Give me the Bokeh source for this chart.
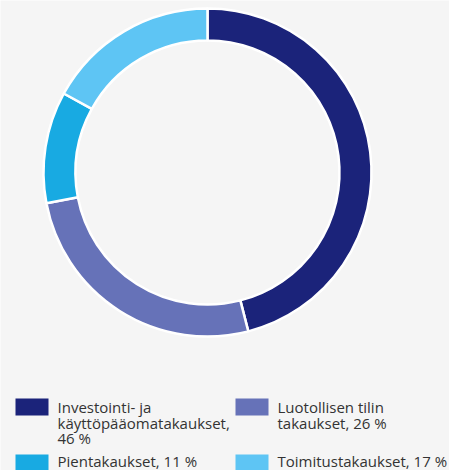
import math
from bokeh.plotting import figure
from bokeh.models import Range1d, ColumnDataSource
from bokeh.core.properties import value
from bokeh.embed import file_html
from bokeh.resources import INLINE

categories = ["Investointi- ja käyttöpääomatakaukset", "Luotollisen tilin takaukset",
              "Pientakaukset", "Toimitustakaukset"]
shares = [46, 26, 11, 17]
colors = ["#1b237a", "#6672b8", "#18aae2", "#5ec5f4"]
legend_labels = ["Investointi- ja\nkäyttöpääomatakaukset,\n46 %",
                 "Luotollisen tilin\ntakaukset, 26 %",
                 "Pientakaukset, 11 %",
                 "Toimitustakaukset, 17 %"]

W, H = 449, 470
BG = "#f5f5f5"

p = figure(width=W, height=H, output_backend="svg", toolbar_location=None,
           x_range=Range1d(0, W), y_range=Range1d(0, H), min_border=0)
p.axis.visible = False
p.grid.visible = False
p.outline_line_color = None
p.background_fill_color = BG
p.border_fill_color = BG

cx, cy = 207, H - 172
total = sum(shares)
starts, ends = [], []
cum = 0
for s in shares:
    starts.append(math.pi / 2 - 2 * math.pi * cum / total)
    cum += s
    ends.append(math.pi / 2 - 2 * math.pi * cum / total)

src = ColumnDataSource(dict(start=starts, end=ends, color=colors, cat=categories))
p.annular_wedge(x=cx, y=cy, inner_radius=132, outer_radius=164,
                start_angle="start", end_angle="end", direction="clock",
                fill_color="color", line_color="white", line_width=2.5, source=src)

# legend
lx = [15, 235, 15, 235]
ly = [398, 398, 454, 454]
toff = [-1.5, -1.5, -4, -4]
p.rect(x=[x + 16.5 for x in lx], y=[H - (y + 8.5) for y in ly], width=33, height=17,
       fill_color=colors, line_color=None)
tx, ty, tt = [], [], []
for x, y, o, lab in zip(lx, ly, toff, legend_labels):
    for i, line in enumerate(lab.split("\n")):
        tx.append(x + 42)
        ty.append(H - (y + o + 15.5 * i))
        tt.append(line)
p.text(x=tx, y=ty, text=tt, text_font=value("Open Sans"), text_font_size="15px",
       text_color="#333333", text_baseline="top", text_line_height=1.0)

html = file_html(p, INLINE)
html = html.replace("<body>", '<body style="background:%s;margin:0">' % BG, 1)
open("out.html", "w").write(html)
